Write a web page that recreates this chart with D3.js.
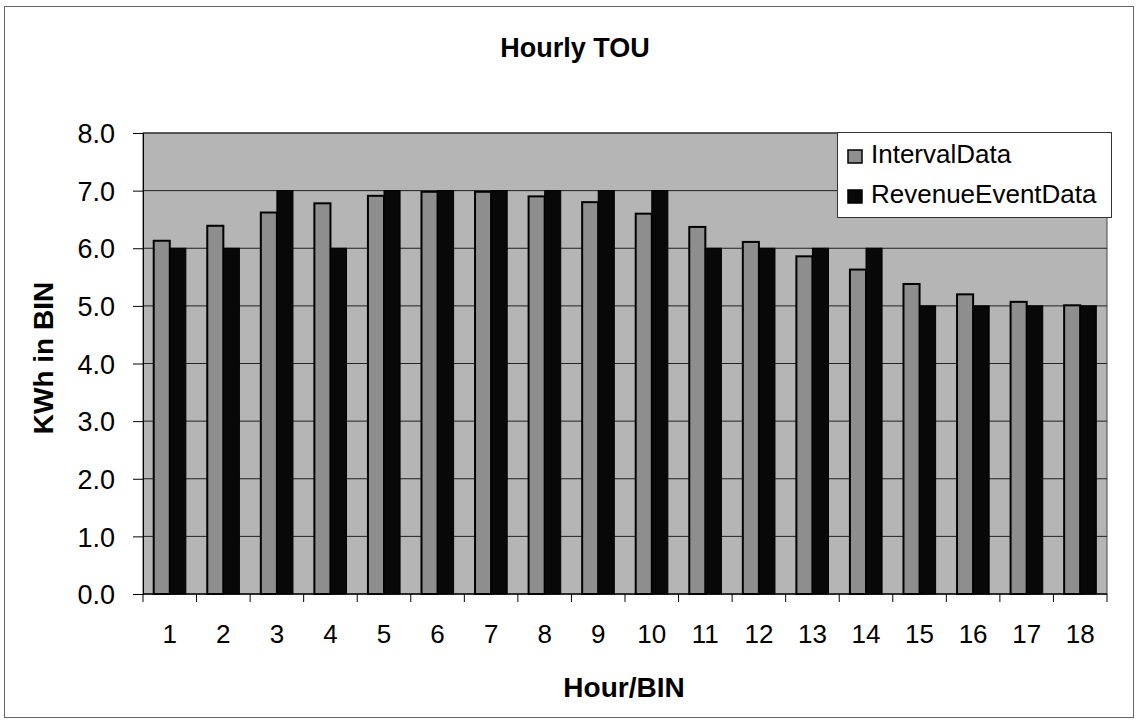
<!DOCTYPE html>
<html><head><meta charset="utf-8">
<script src="https://cdn.jsdelivr.net/npm/d3@7"></script>
<style>body{margin:0;background:#fff}svg{display:block}text{font-family:"Liberation Sans",Arial,sans-serif}</style>
</head><body>
<script>
const categories = ["1","2","3","4","5","6","7","8","9","10","11","12","13","14","15","16","17","18"];
const intervalData = [6.13,6.39,6.62,6.78,6.91,6.98,6.98,6.90,6.80,6.60,6.37,6.11,5.86,5.63,5.38,5.20,5.07,5.01];
const revenueEventData = [6,6,7,6,7,7,7,7,7,7,6,6,6,6,5,5,5,5];
const seriesNames = ["IntervalData","RevenueEventData"];
const yTicks = [0,1,2,3,4,5,6,7,8];

const W=1138,H=723;
const svg=d3.select("body").append("svg").attr("width",W).attr("height",H);
svg.append("rect").attr("x",4.5).attr("y",6.5).attr("width",1129).attr("height",711).attr("fill","#fff").attr("stroke","#666").attr("stroke-width",1);

const L=143,R=1107,T=133,B=594;
const x=d3.scaleBand().domain(categories).range([L,R]).paddingInner(0.4).paddingOuter(0.2);
const x1=d3.scaleBand().domain(seriesNames).range([0,x.bandwidth()]);
const y=d3.scaleLinear().domain([0,8]).range([B,T]);

svg.append("rect").attr("x",L).attr("y",T).attr("width",R-L).attr("height",B-T).attr("fill","#b5b5b5").attr("stroke","#444");

svg.append("g").selectAll("line").data(yTicks).join("line")
 .attr("x1",L).attr("x2",R).attr("y1",d=>y(d)).attr("y2",d=>y(d)).attr("stroke","#222").attr("stroke-width",1);

const colors={IntervalData:"#8e8e8e",RevenueEventData:"#080808"};
const vals={IntervalData:intervalData,RevenueEventData:revenueEventData};
seriesNames.forEach(s=>{
 svg.append("g").selectAll("rect").data(categories).join("rect")
  .attr("x",c=>x(c)+x1(s)).attr("width",x1.bandwidth())
  .attr("y",(c,i)=>y(vals[s][i])).attr("height",(c,i)=>B-y(vals[s][i]))
  .attr("fill",colors[s]).attr("stroke","#000").attr("stroke-width",s==="IntervalData"?2:1);
});

const yAxis=svg.append("g").attr("transform",`translate(${L},0)`)
 .call(d3.axisLeft(y).tickValues(yTicks).tickFormat(d3.format(".1f")).tickSize(10).tickPadding(18));
yAxis.select(".domain").attr("stroke","#000");
yAxis.selectAll("line").attr("stroke","#000");
yAxis.selectAll("text").attr("font-size",27).attr("fill","#000").attr("font-family","Liberation Sans, Arial").attr("dy","0.36em");

const bounds=d3.range(categories.length+1).map(i=>L+i*(R-L)/categories.length);
svg.append("line").attr("x1",L).attr("x2",R).attr("y1",B).attr("y2",B).attr("stroke","#000");
svg.append("g").selectAll("line").data(bounds).join("line")
 .attr("x1",d=>d).attr("x2",d=>d).attr("y1",B).attr("y2",B+8).attr("stroke","#000");
svg.append("g").selectAll("text").data(categories).join("text")
 .attr("x",c=>x(c)+x.bandwidth()/2).attr("y",643).attr("text-anchor","middle")
 .attr("font-size",26).text(c=>c);

svg.append("text").attr("x",575).attr("y",57).attr("text-anchor","middle").attr("font-size",27).attr("font-weight","bold").text("Hourly TOU");
svg.append("text").attr("x",624).attr("y",697).attr("text-anchor","middle").attr("font-size",28).attr("font-weight","bold").text("Hour/BIN");
svg.append("text").attr("transform","translate(53,358) rotate(-90)").attr("text-anchor","middle").attr("font-size",28).attr("font-weight","bold").text("KWh in BIN");

const lg=svg.append("g");
lg.append("rect").attr("x",837.5).attr("y",132.5).attr("width",274).attr("height",85).attr("fill","#fff").attr("stroke","#333");
seriesNames.forEach((s,i)=>{
 const base=163+i*40;
 lg.append("rect").attr("x",848).attr("y",base-13).attr("width",14).attr("height",13).attr("fill",colors[s]).attr("stroke","#000").attr("stroke-width",1.5);
 lg.append("text").attr("x",871).attr("y",base).attr("font-size",26).text(s);
});
</script>
</body></html>
